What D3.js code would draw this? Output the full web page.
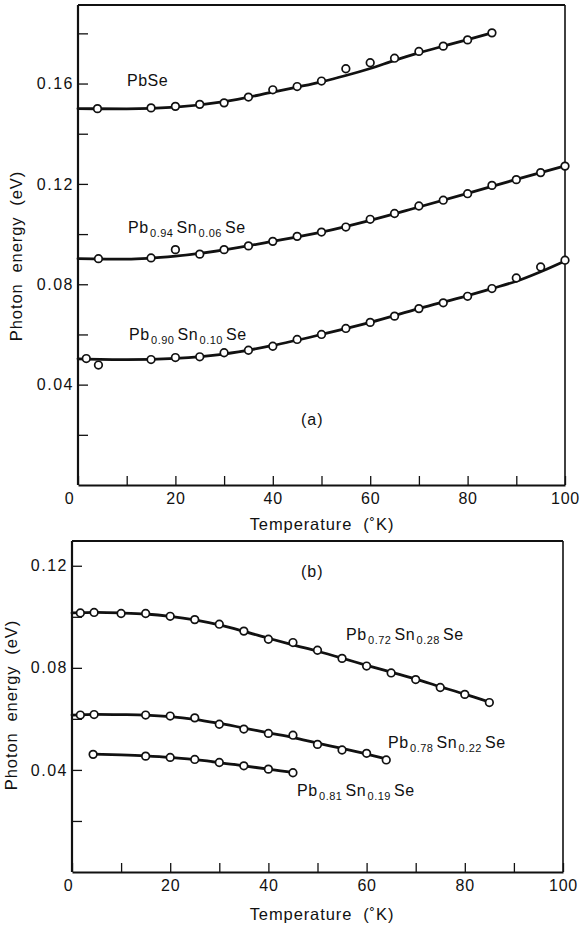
<!DOCTYPE html>
<html>
<head>
<meta charset="utf-8">
<script src="https://cdn.jsdelivr.net/npm/d3@7"></script>
<style>
  html, body { margin: 0; padding: 0; background: #fff; }
  svg { display: block; }
  text { font-family: "Liberation Sans", Arial, sans-serif; fill: #111; }
</style>
</head>
<body>
<svg id="chart" width="581" height="925"></svg>
<script>
// ---------------- DATA ----------------
// Panel (a)
const xTicksA = [0, 10, 20, 30, 40, 50, 60, 70, 80, 90, 100];
const yTicksA = [0.02, 0.04, 0.06, 0.08, 0.10, 0.12, 0.14, 0.16, 0.18];
const yLabelTicksA = [0.04, 0.08, 0.12, 0.16];

const pbseLabel = ["PbSe"];
const pbseT = [4, 15, 20, 25, 30, 35, 40, 45, 50, 55, 60, 65, 70, 75, 80, 85];
const pbseE = [0.1500, 0.1503, 0.1509, 0.1517, 0.1523, 0.1546, 0.1575, 0.1588, 0.1610, 0.1659, 0.1683, 0.1701, 0.1728, 0.1749, 0.1774, 0.1802];
const pbseFitT = [0, 10, 20, 30, 40, 45, 50, 55, 60, 65, 70, 75, 80, 85];
const pbseFitE = [0.1500, 0.1499, 0.1506, 0.1528, 0.1566, 0.1586, 0.1607, 0.1632, 0.1660, 0.1692, 0.1722, 0.1749, 0.1775, 0.1802];

const sn06Label = ["Pb", "0.94", "Sn", "0.06", "Se"];
const sn06T = [4.2, 15, 20, 25, 30, 35, 40, 45, 50, 55, 60, 65, 70, 75, 80, 85, 90, 95, 100];
const sn06E = [0.0902, 0.0905, 0.0938, 0.0920, 0.0938, 0.0953, 0.0971, 0.0991, 0.1008, 0.1028, 0.1059, 0.1082, 0.1112, 0.1135, 0.1161, 0.1194, 0.1217, 0.1245, 0.1271];
const sn06FitT = [0, 10, 20, 30, 40, 50, 60, 70, 80, 90, 100];
const sn06FitE = [0.0902, 0.0900, 0.0912, 0.0937, 0.0971, 0.1008, 0.1055, 0.1108, 0.1162, 0.1218, 0.1272];

const sn10Label = ["Pb", "0.90", "Sn", "0.10", "Se"];
const sn10T = [1.7, 4.2, 15, 20, 25, 30, 35, 40, 45, 50, 55, 60, 65, 70, 75, 80, 85, 90, 95, 100];
const sn10E = [0.0504, 0.0478, 0.0500, 0.0508, 0.0511, 0.0527, 0.0537, 0.0553, 0.0580, 0.0600, 0.0624, 0.0648, 0.0673, 0.0703, 0.0726, 0.0752, 0.0783, 0.0825, 0.0869, 0.0896];
const sn10FitT = [0, 10, 20, 30, 40, 50, 60, 70, 80, 85, 90, 95, 100];
const sn10FitE = [0.0503, 0.0500, 0.0505, 0.0522, 0.0556, 0.0600, 0.0648, 0.0703, 0.0755, 0.0783, 0.0812, 0.0850, 0.0893];

// Panel (b)
const xTicksB = [0, 10, 20, 30, 40, 50, 60, 70, 80, 90, 100];
const yTicksB = [0.02, 0.04, 0.06, 0.08, 0.10, 0.12];
const yLabelTicksB = [0.04, 0.08, 0.12];

const sn28Label = ["Pb", "0.72", "Sn", "0.28", "Se"];
const sn28T = [1.7, 4.5, 10, 15, 20, 25, 30, 35, 40, 45, 50, 55, 60, 65, 70, 75, 80, 85];
const sn28E = [0.1015, 0.1017, 0.1013, 0.1013, 0.1002, 0.0989, 0.0971, 0.0944, 0.0912, 0.0899, 0.0869, 0.0837, 0.0807, 0.0780, 0.0754, 0.0723, 0.0696, 0.0664];
const sn28FitT = [0, 5, 10, 15, 20, 25, 30, 35, 40, 45, 50, 55, 60, 65, 70, 75, 80, 85];
const sn28FitE = [0.1015, 0.1017, 0.1015, 0.1011, 0.1002, 0.0988, 0.0968, 0.0943, 0.0916, 0.0890, 0.0865, 0.0838, 0.0810, 0.0783, 0.0756, 0.0726, 0.0697, 0.0666];

const sn22Label = ["Pb", "0.78", "Sn", "0.22", "Se"];
const sn22T = [1.7, 4.5, 15, 20, 25, 30, 35, 40, 45, 50, 55, 60, 64];
const sn22E = [0.0615, 0.0617, 0.0615, 0.0611, 0.0604, 0.0579, 0.0560, 0.0543, 0.0536, 0.0500, 0.0478, 0.0465, 0.0439];
const sn22FitT = [0, 5, 10, 15, 20, 25, 30, 35, 40, 45, 50, 55, 60, 64];
const sn22FitE = [0.0615, 0.0618, 0.0617, 0.0615, 0.0609, 0.0598, 0.0582, 0.0564, 0.0545, 0.0527, 0.0505, 0.0484, 0.0462, 0.0443];

const sn19Label = ["Pb", "0.81", "Sn", "0.19", "Se"];
const sn19T = [4.3, 15, 20, 25, 30, 35, 40, 45];
const sn19E = [0.0461, 0.0454, 0.0449, 0.0441, 0.0429, 0.0416, 0.0403, 0.0389];
const sn19FitT = [4.3, 10, 15, 20, 25, 30, 35, 40, 45];
const sn19FitE = [0.0462, 0.0459, 0.0455, 0.0449, 0.0440, 0.0429, 0.0416, 0.0403, 0.0390];

const yAxisTitle = "Photon  energy  (eV)";
const xAxisTitle = "Temperature  (\u02DAK)";
const panelA = "(a)";
const panelB = "(b)";

// ---------------- DRAWING ----------------
const svg = d3.select("#chart");
const FS = 16;

function zip(T, E) { return T.map((t, i) => ({ t: t, e: E[i] })); }

function drawPanel(cfg) {
  const x = d3.scaleLinear().domain([0, 100]).range([cfg.x0, cfg.x1]);
  const y = d3.scaleLinear().domain([0, cfg.ymax]).range([cfg.y0, cfg.y1]);
  const g = svg.append("g");

  // frame (top and right)
  g.append("line").attr("x1", cfg.x0).attr("x2", cfg.x1).attr("y1", cfg.y1).attr("y2", cfg.y1)
    .attr("stroke", "#111").attr("stroke-width", 1.8);
  g.append("line").attr("x1", cfg.x1).attr("x2", cfg.x1).attr("y1", cfg.y1).attr("y2", cfg.y0)
    .attr("stroke", "#111").attr("stroke-width", 1.6);

  // x axis
  const xa = g.append("g").attr("transform", `translate(0,${cfg.y0})`)
    .call(d3.axisBottom(x).tickValues(cfg.xTicks).tickSize(-9).tickPadding(8).tickSizeOuter(0)
      .tickFormat(d => d % 20 === 0 ? String(d) : ""));
  xa.select(".domain").attr("stroke", "#111").attr("stroke-width", 2.2);
  xa.selectAll(".tick line").attr("stroke", "#111").attr("stroke-width", 1.3);
  xa.selectAll(".tick text").attr("font-size", FS).attr("fill", "#111")
    .style("font-family", "Liberation Sans, Arial, sans-serif").attr("letter-spacing", 0.8)
    .attr("dx", d => d === 0 ? -cfg.zeroShift : 0);

  // y axis
  const ya = g.append("g").attr("transform", `translate(${cfg.x0},0)`)
    .call(d3.axisLeft(y).tickValues(cfg.yTicks).tickSize(-10).tickPadding(4).tickSizeOuter(0)
      .tickFormat(d => cfg.yLabels.some(v => Math.abs(v - d) < 1e-9) ? d3.format(".2f")(d) : ""));
  ya.select(".domain").attr("stroke", "#111").attr("stroke-width", 2.2)
    .attr("d", `M0,${cfg.y0}V${cfg.y1}`);
  ya.selectAll(".tick line").attr("stroke", "#111").attr("stroke-width", 1.3);
  ya.selectAll(".tick text").attr("font-size", FS).attr("fill", "#111")
    .style("font-family", "Liberation Sans, Arial, sans-serif").attr("letter-spacing", 1.5);

  const line = d3.line().x(d => x(d.t)).y(d => y(d.e)).curve(d3.curveMonotoneX);

  cfg.series.forEach(s => {
    g.append("path").datum(zip(s.fitT, s.fitE)).attr("d", line)
      .attr("fill", "none").attr("stroke", "#111").attr("stroke-width", 2.8)
      .attr("stroke-linejoin", "round").attr("stroke-linecap", "round");
    g.selectAll(null).data(zip(s.T, s.E)).join("circle")
      .attr("cx", d => x(d.t)).attr("cy", d => y(d.e)).attr("r", 3.8)
      .attr("fill", "#fff").attr("stroke", "#111").attr("stroke-width", 1.7);
    drawFormula(g, s.lx, s.ly, s.label);
  });

  // panel tag
  g.append("text").attr("x", cfg.tagX).attr("y", cfg.tagY).attr("font-size", FS)
    .attr("letter-spacing", 1).text(cfg.tag);

  // axis titles
  g.append("text").attr("x", cfg.xtX).attr("y", cfg.xtY).attr("text-anchor", "middle")
    .attr("font-size", FS + 0.5).attr("letter-spacing", 0.9).style("white-space", "pre")
    .attr("xml:space", "preserve").text(xAxisTitle);
  g.append("text").attr("transform", `translate(${cfg.ytX},${cfg.ytY}) rotate(-90)`)
    .attr("text-anchor", "middle").attr("font-size", FS + 0.5).attr("letter-spacing", 0.9)
    .style("white-space", "pre").attr("xml:space", "preserve").text(yAxisTitle);
}

function drawFormula(g, x, y, parts) {
  const t = g.append("text").attr("x", x).attr("y", y).attr("font-size", FS).attr("letter-spacing", 0.5);
  parts.forEach((p, i) => {
    const sub = i % 2 === 1;
    t.append("tspan")
      .attr("font-size", sub ? 11 : FS)
      .attr("dx", i === 0 ? 0 : (sub ? 1.5 : 3))
      .attr("dy", sub ? 4 : (i === 0 ? 0 : -4))
      .attr("letter-spacing", 0.5)
      .text(p);
  });
}

drawPanel({
  x0: 78, x1: 565, y0: 485, y1: 5, ymax: 0.1913,
  xTicks: xTicksA, yTicks: yTicksA, yLabels: yLabelTicksA, zeroShift: 9,
  tag: panelA, tagX: 301, tagY: 425,
  xtX: 322, xtY: 530, ytX: 22, ytY: 256,
  series: [
    { T: pbseT, E: pbseE, fitT: pbseFitT, fitE: pbseFitE, label: pbseLabel, lx: 127, ly: 86 },
    { T: sn06T, E: sn06E, fitT: sn06FitT, fitE: sn06FitE, label: sn06Label, lx: 128, ly: 233 },
    { T: sn10T, E: sn10E, fitT: sn10FitT, fitE: sn10FitE, label: sn10Label, lx: 129, ly: 340 }
  ]
});

drawPanel({
  x0: 72, x1: 563, y0: 872, y1: 541, ymax: 0.1297,
  xTicks: xTicksB, yTicks: yTicksB, yLabels: yLabelTicksB, zeroShift: 4,
  tag: panelB, tagX: 301, tagY: 577,
  xtX: 322, xtY: 920, ytX: 17, ytY: 705,
  series: [
    { T: sn28T, E: sn28E, fitT: sn28FitT, fitE: sn28FitE, label: sn28Label, lx: 346, ly: 640 },
    { T: sn22T, E: sn22E, fitT: sn22FitT, fitE: sn22FitE, label: sn22Label, lx: 388, ly: 748 },
    { T: sn19T, E: sn19E, fitT: sn19FitT, fitE: sn19FitE, label: sn19Label, lx: 297, ly: 796 }
  ]
});
</script>
</body>
</html>
